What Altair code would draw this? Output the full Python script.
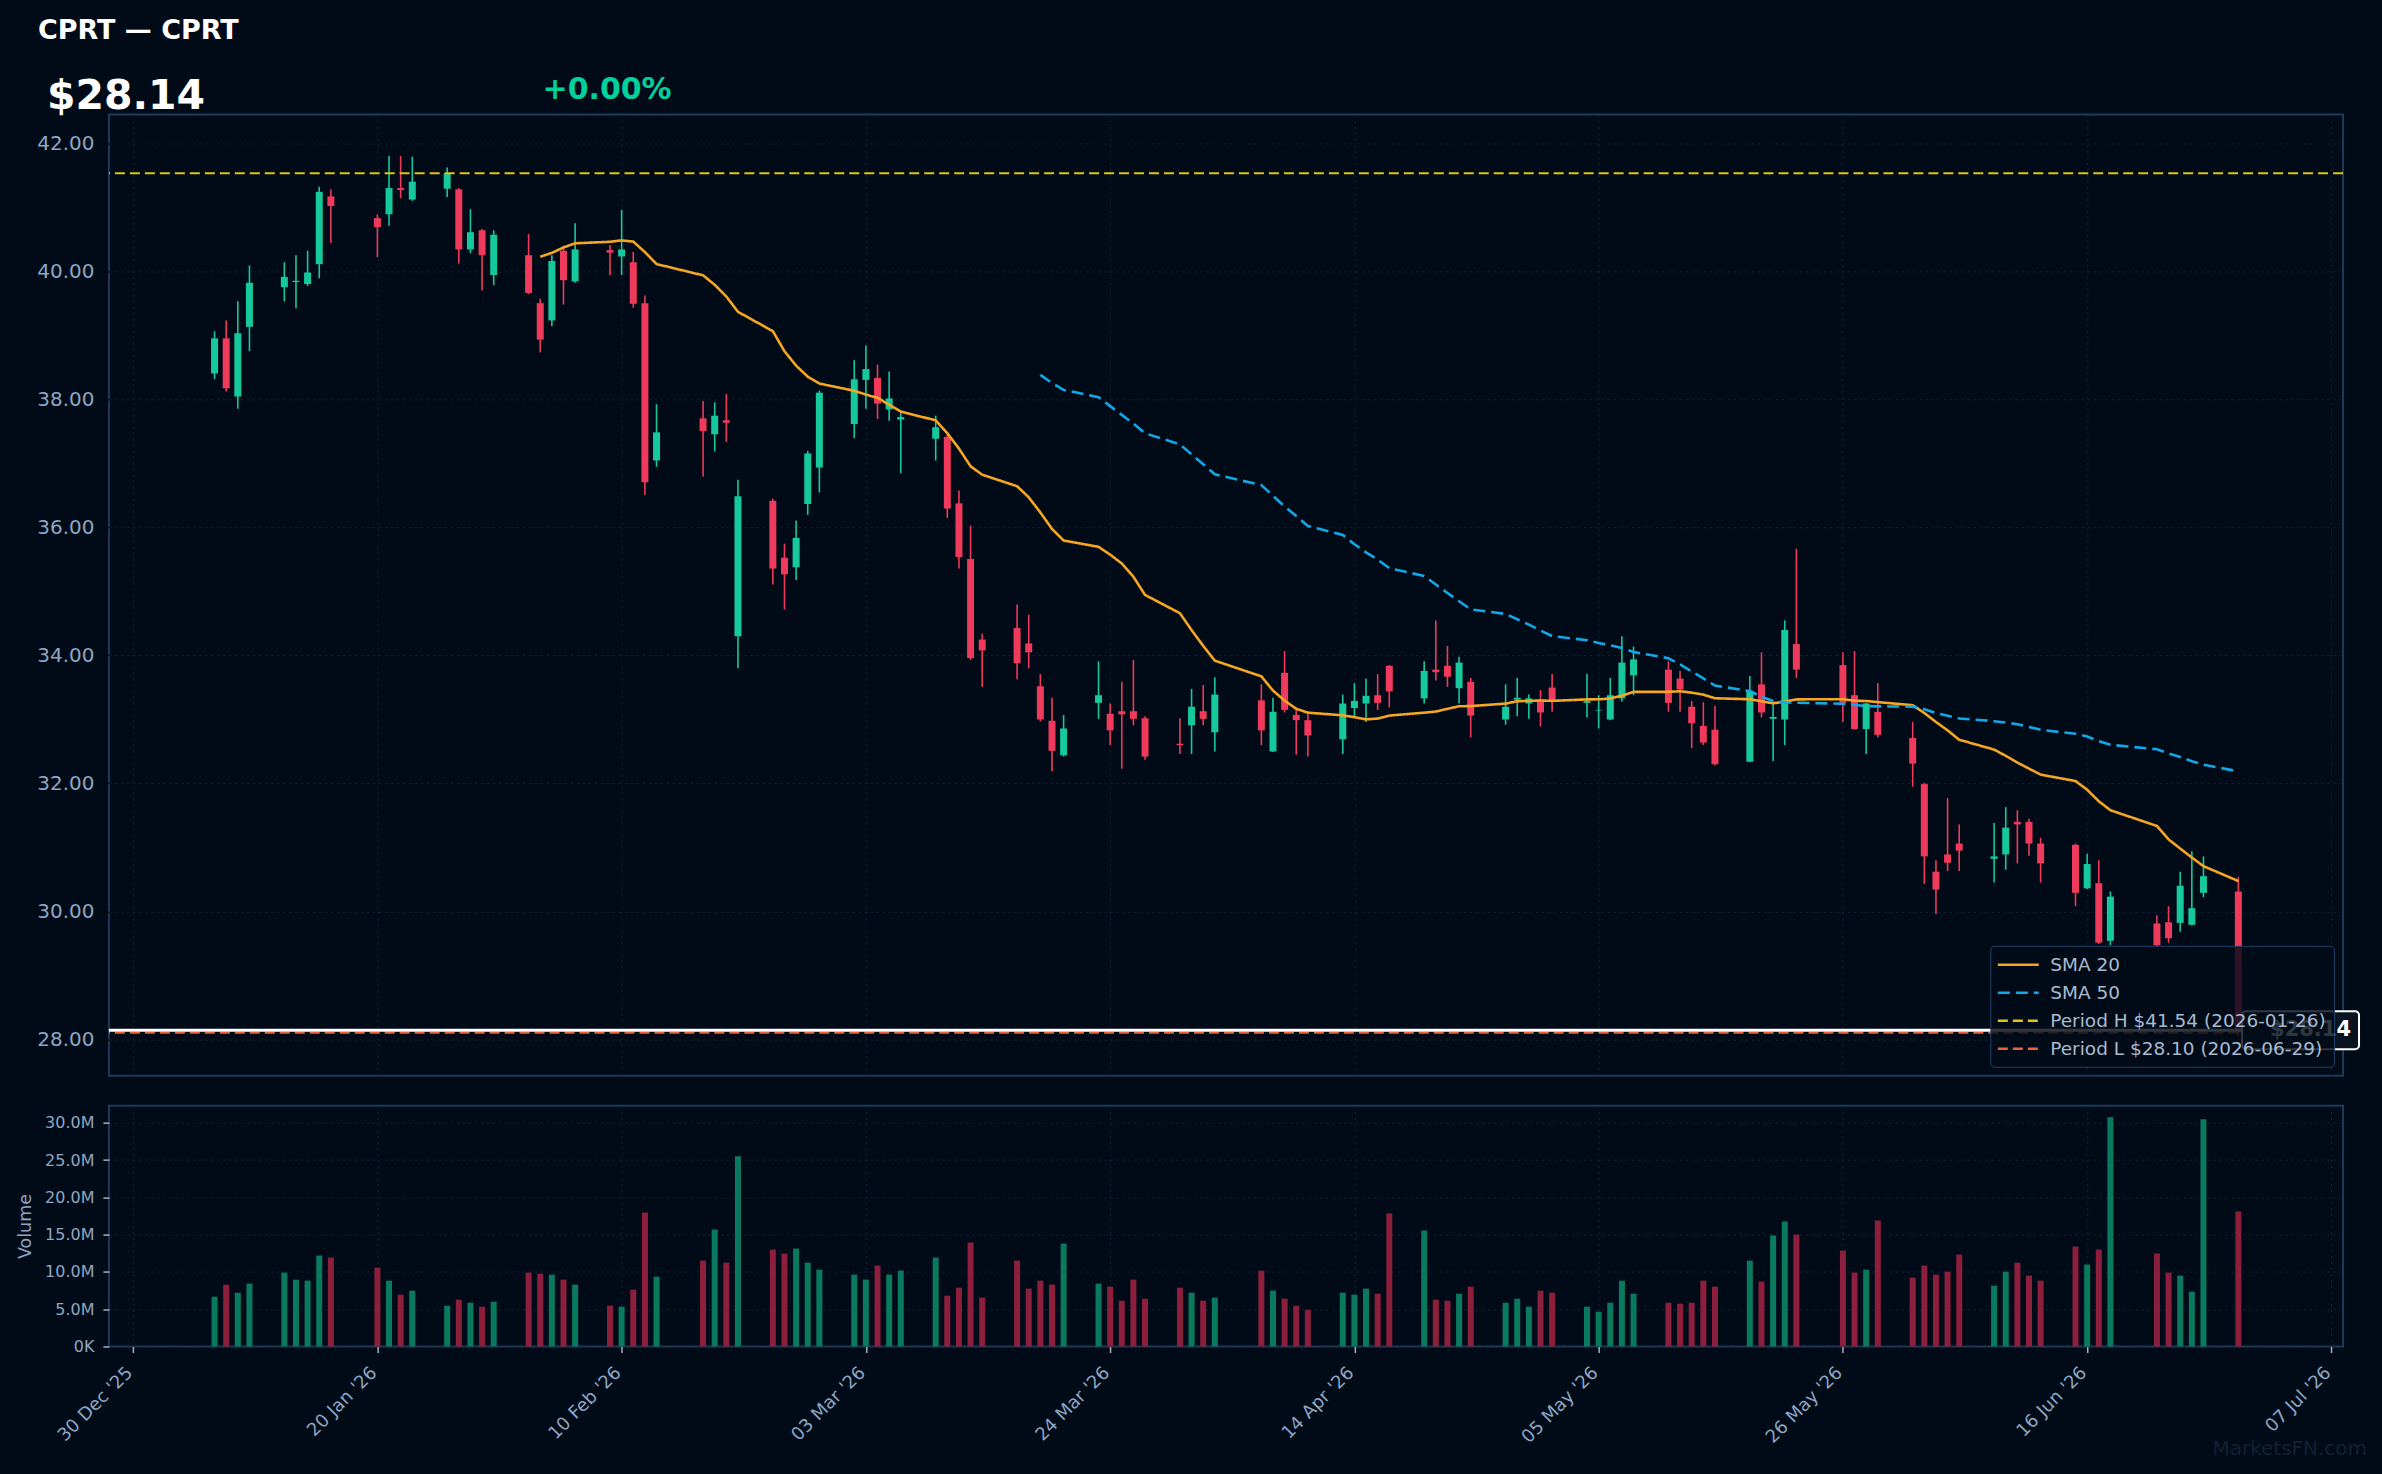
import altair as alt
import pandas as pd

# ---------------- colours ----------------
BG = "#010b17"
FRAME = "#1d3a5c"
GRID = "#14263a"
LABEL = "#8ea6c4"
GREEN = "#16c99c"
RED = "#f03a5b"
VGREEN = "#0a7a5f"
VRED = "#8e1f3c"

# ---------------- data ----------------
dates = [
    "2026-01-06", "2026-01-07", "2026-01-08", "2026-01-09", "2026-01-12", "2026-01-13", "2026-01-14",
    "2026-01-15", "2026-01-16", "2026-01-20", "2026-01-21", "2026-01-22", "2026-01-23", "2026-01-26",
    "2026-01-27", "2026-01-28", "2026-01-29", "2026-01-30",
    "2026-02-02", "2026-02-03", "2026-02-04", "2026-02-05", "2026-02-06", "2026-02-09", "2026-02-10",
    "2026-02-11", "2026-02-12", "2026-02-13", "2026-02-17", "2026-02-18", "2026-02-19", "2026-02-20",
    "2026-02-23", "2026-02-24", "2026-02-25", "2026-02-26", "2026-02-27",
    "2026-03-02", "2026-03-03", "2026-03-04", "2026-03-05", "2026-03-06", "2026-03-09", "2026-03-10",
    "2026-03-11", "2026-03-12", "2026-03-13", "2026-03-16", "2026-03-17", "2026-03-18", "2026-03-19",
    "2026-03-20", "2026-03-23", "2026-03-24", "2026-03-25", "2026-03-26", "2026-03-27", "2026-03-30",
    "2026-03-31",
    "2026-04-01", "2026-04-02", "2026-04-06", "2026-04-07", "2026-04-08", "2026-04-09", "2026-04-10",
    "2026-04-13", "2026-04-14", "2026-04-15", "2026-04-16", "2026-04-17", "2026-04-20", "2026-04-21",
    "2026-04-22", "2026-04-23", "2026-04-24", "2026-04-27", "2026-04-28", "2026-04-29", "2026-04-30",
    "2026-05-01", "2026-05-04", "2026-05-05", "2026-05-06", "2026-05-07", "2026-05-08", "2026-05-11",
    "2026-05-12", "2026-05-13", "2026-05-14", "2026-05-15", "2026-05-18", "2026-05-19", "2026-05-20",
    "2026-05-21", "2026-05-22", "2026-05-26", "2026-05-27", "2026-05-28", "2026-05-29",
    "2026-06-01", "2026-06-02", "2026-06-03", "2026-06-04", "2026-06-05", "2026-06-08", "2026-06-09",
    "2026-06-10", "2026-06-11", "2026-06-12", "2026-06-15", "2026-06-16", "2026-06-17", "2026-06-18",
    "2026-06-22", "2026-06-23", "2026-06-24", "2026-06-25", "2026-06-26", "2026-06-29",
]

opens = [
    38.41, 38.96, 38.05, 39.14, 39.76, 39.84, 39.81, 40.12, 41.18, 40.84, 40.90, 41.31, 41.13, 41.30,
    41.29, 40.35, 40.65, 39.95,
    40.26, 39.51, 39.24, 40.33, 39.85, 40.34, 40.24, 40.15, 39.51, 37.05, 37.71, 37.46, 37.68, 34.30,
    36.42, 35.53, 35.38, 36.37, 36.94,
    37.62, 38.31, 38.34, 37.85, 37.69, 37.39, 37.42, 36.38, 35.51, 34.25, 34.43, 34.19, 33.52, 32.98,
    32.44, 33.26, 33.09, 33.13, 33.13, 33.02, 32.62, 32.91,
    33.13, 32.80, 33.30, 32.50, 33.73, 33.07, 32.99, 32.69, 33.18, 33.25, 33.38, 33.84, 33.33, 33.78,
    33.84, 33.49, 33.59, 33.00, 33.31, 33.25, 33.30,
    33.50, 33.26, 33.14, 33.00, 33.33, 33.69, 33.78, 33.64, 33.20, 32.90, 32.84, 32.34, 33.55, 33.01,
    33.00, 34.18, 33.85, 33.38, 32.85, 33.12,
    32.71, 31.99, 30.62, 30.89, 31.06, 30.82, 30.89, 31.40, 31.40, 31.06, 31.04, 30.36, 30.44, 29.54,
    29.81, 29.83, 29.82, 29.79, 30.29, 30.31,
]

highs = [
    39.07, 39.24, 39.54, 40.10, 40.15, 40.26, 40.33, 41.33, 41.29, 40.90, 41.81, 41.81, 41.80, 41.63,
    41.31, 40.98, 40.67, 40.65,
    40.59, 39.58, 40.26, 40.41, 40.76, 40.42, 40.97, 40.31, 39.63, 37.93, 37.98, 37.96, 38.09, 36.75,
    36.45, 35.75, 36.11, 37.20, 38.14,
    38.62, 38.85, 38.55, 38.44, 37.80, 37.75, 37.46, 36.58, 36.03, 34.34, 34.80, 34.64, 33.71, 33.34,
    33.07, 33.91, 33.25, 33.59, 33.93, 33.05, 33.02, 33.48,
    33.54, 33.66, 33.55, 33.34, 34.07, 33.19, 33.12, 33.39, 33.57, 33.64, 33.71, 33.85, 33.91, 34.55,
    34.15, 33.98, 33.65, 33.55, 33.65, 33.39, 33.46,
    33.71, 33.71, 33.38, 33.65, 34.30, 34.14, 33.91, 33.76, 33.29, 33.27, 33.21, 33.68, 34.05, 33.26,
    34.55, 35.67, 34.05, 34.07, 33.26, 33.57,
    32.96, 32.01, 30.80, 31.77, 31.36, 31.38, 31.63, 31.58, 31.45, 31.15, 31.06, 30.90, 30.80, 30.31,
    29.94, 30.08, 30.62, 30.94, 30.86, 30.54,
]

lows = [
    38.32, 38.13, 37.86, 38.76, 39.54, 39.43, 39.78, 39.90, 40.45, 40.23, 40.72, 41.15, 41.11, 41.17,
    40.13, 40.29, 39.71, 39.79,
    39.65, 38.74, 39.15, 39.49, 39.83, 39.95, 39.95, 39.44, 36.51, 36.95, 36.80, 37.19, 37.34, 33.80,
    35.11, 34.72, 35.18, 36.20, 36.55,
    37.40, 37.86, 37.70, 37.67, 36.85, 37.05, 36.15, 35.36, 33.93, 33.51, 33.63, 33.80, 32.97, 32.19,
    32.42, 33.01, 32.60, 32.23, 32.91, 32.37, 32.46, 32.46,
    32.91, 32.50, 32.60, 32.49, 33.11, 32.45, 32.42, 32.46, 33.05, 32.96, 33.15, 33.19, 33.25, 33.61,
    33.51, 33.25, 32.72, 32.92, 33.05, 33.01, 32.89,
    33.12, 33.03, 32.86, 32.99, 33.28, 33.38, 33.12, 33.12, 32.55, 32.60, 32.28, 32.33, 33.03, 32.35,
    32.60, 33.65, 32.96, 32.84, 32.46, 32.72,
    31.95, 30.43, 29.96, 30.63, 30.63, 30.45, 30.65, 30.75, 30.87, 30.45, 30.08, 30.35, 29.49, 29.47,
    29.43, 29.51, 29.68, 29.78, 30.22, 28.05,
]

closes = [
    38.96, 38.18, 39.04, 39.83, 39.92, 39.86, 39.99, 41.25, 41.03, 40.70, 41.31, 41.28, 41.41, 41.54,
    40.35, 40.62, 40.26, 40.58,
    39.67, 38.94, 40.17, 39.87, 40.35, 40.30, 40.35, 39.50, 36.71, 37.49, 37.51, 37.75, 37.64, 36.49,
    35.36, 35.27, 35.84, 37.16, 38.11,
    38.32, 38.48, 37.94, 38.02, 37.73, 37.57, 36.30, 35.54, 33.96, 34.08, 33.88, 34.05, 33.00, 32.51,
    32.86, 33.38, 32.83, 33.08, 33.01, 32.42, 32.60, 33.20,
    33.01, 33.39, 32.83, 33.12, 33.15, 32.99, 32.75, 33.25, 33.29, 33.37, 33.26, 33.44, 33.76, 33.74,
    33.67, 33.89, 33.06, 33.20, 33.34, 33.33, 33.11,
    33.28, 33.29, 33.15, 33.38, 33.89, 33.94, 33.26, 33.47, 32.94, 32.64, 32.30, 33.45, 33.11, 33.04,
    34.40, 33.78, 33.26, 32.85, 33.25, 32.76,
    32.31, 30.86, 30.34, 30.76, 30.95, 30.86, 31.31, 31.36, 31.06, 30.75, 30.29, 30.74, 29.51, 30.23,
    29.47, 29.58, 30.40, 30.05, 30.55, 28.10,
]

volumes_m = [
    6.68, 8.30, 7.22, 8.43, 9.91, 8.97, 8.83, 12.20, 11.93, 10.58, 8.83, 6.95, 7.49, 5.47, 6.28, 5.87,
    5.34, 6.01,
    9.91, 9.77, 9.64, 8.97, 8.30, 5.47, 5.34, 7.62, 17.98, 9.37, 11.52, 15.69, 11.25, 25.51, 13.00,
    12.47, 13.14, 11.25, 10.31,
    9.64, 8.97, 10.85, 9.64, 10.18, 11.93, 6.82, 7.89, 13.95, 6.55, 11.52, 7.76, 8.83, 8.30, 13.81,
    8.43, 8.03, 6.14, 8.97, 6.41, 7.89, 7.22,
    6.14, 6.55, 10.18, 7.49, 6.41, 5.47, 4.93, 7.22, 6.95, 7.76, 7.08, 17.85, 15.56, 6.28, 6.14, 7.08,
    8.03, 5.87, 6.41, 5.34, 7.49,
    7.22, 5.34, 4.66, 5.87, 8.83, 7.08, 5.87, 5.74, 5.87, 8.83, 8.03, 11.52, 8.70, 14.89, 16.77, 15.02,
    12.87, 9.91, 10.31, 16.90,
    9.24, 10.85, 9.64, 10.04, 12.33, 8.16, 10.04, 11.25, 9.51, 8.83, 13.41, 10.99, 13.00, 30.76, 12.47,
    9.91, 9.51, 7.35, 30.49, 18.12,
]

ticker_title = ["CPRT \u2014 CPRT"]
last_price = [28.14]
last_price_text = ["$28.14"]
change_text = ["+0.00%"]
watermark_text = ["MarketsFN.com"]
tick_dates = [(2025, 12, 30), (2026, 1, 20), (2026, 2, 10), (2026, 3, 3), (2026, 3, 24),
              (2026, 4, 14), (2026, 5, 5), (2026, 5, 26), (2026, 6, 16), (2026, 7, 7)]
price_ticks = [28, 30, 32, 34, 36, 38, 40, 42]
volume_ticks = [0, 5e6, 10e6, 15e6, 20e6, 25e6, 30e6]

# ---------------- tables ----------------
df = pd.DataFrame({"date": dates, "open": opens, "high": highs, "low": lows,
                   "close": closes, "vol_m": volumes_m})
df["volume"] = df["vol_m"] * 1e6
df["sma20"] = df["close"].rolling(20).mean()
df["sma50"] = df["close"].rolling(50).mean()

hi_i = int(df["close"].idxmax())
lo_i = int(df["close"].idxmin())
label_sma20 = "SMA 20"
label_sma50 = "SMA 50"
label_h = f"Period H ${df['close'][hi_i]:.2f} ({df['date'][hi_i]})"
label_l = f"Period L ${df['close'][lo_i]:.2f} ({df['date'][lo_i]})"
series_domain = [label_sma20, label_sma50, label_h, label_l]

sma_rows = []
for d, a, b in zip(df["date"], df["sma20"], df["sma50"]):
    if pd.notna(a):
        sma_rows.append({"date": d, "value": float(a), "series": label_sma20})
    if pd.notna(b):
        sma_rows.append({"date": d, "value": float(b), "series": label_sma50})
sma_df = pd.DataFrame(sma_rows)
levels_df = pd.DataFrame({"value": [df["close"][hi_i], df["close"][lo_i]],
                          "series": [label_h, label_l]})
last_df = pd.DataFrame({"value": last_price, "label": last_price_text})

# ---------------- scales / axes ----------------
W, H_PRICE, H_VOL = 2236, 962, 241

x_scale = alt.Scale(type="utc", padding=0, domain=[
    alt.DateTime(year=2025, month=12, date=27, hours=22, utc=True),
    alt.DateTime(year=2026, month=7, date=8, utc=True)])
tick_vals = [alt.DateTime(year=y, month=m, date=d, utc=True) for (y, m, d) in tick_dates]

x_axis_price = alt.Axis(values=tick_vals, labels=False, ticks=False, domain=False, grid=True,
                        gridColor=GRID, gridDash=[2, 4], gridWidth=1, title=None)
x_axis_vol = alt.Axis(values=tick_vals, format="%d %b '%y", labelAngle=315, labelAlign="right",
                      labelBaseline="top", labelFontSize=18, labelColor=LABEL, labelPadding=11,
                      labelOffset=-10, labelFlush=False, labelOverlap=False, labelBound=False,
                      tickColor="#9fb3c8", tickSize=6, tickWidth=1.5, domain=False, grid=True,
                      gridColor=GRID, gridDash=[2, 4], gridWidth=1, title=None)

y_scale = alt.Scale(domain=[27.43, 42.46], nice=False, zero=False, padding=0)
y_axis_price = alt.Axis(values=price_ticks, format=".2f", labelFontSize=20, labelColor=LABEL,
                        tickColor="#000000", tickSize=6, tickWidth=1.5, labelPadding=9,
                        domain=False, grid=True, gridColor=GRID, gridDash=[2, 4], gridWidth=1,
                        title=None)

X_ENC = alt.X("date:T", scale=x_scale, axis=x_axis_price)


def y_enc(field):
    return alt.Y(field, type="quantitative", scale=y_scale, axis=y_axis_price)


legend = alt.Legend(title=None, orient="bottom-right", direction="vertical", offset=9,
                    fillColor="rgba(1,11,23,0.82)", strokeColor="#23426a", cornerRadius=4,
                    padding=8, labelColor="#a9bad0", labelFontSize=18.5, labelLimit=0,
                    symbolType="M-2.2,0L2.2,0", symbolSize=346, symbolStrokeWidth=2.5,
                    symbolOffset=9, labelOffset=21, rowPadding=7)
color_scale = alt.Scale(domain=series_domain, range=["#f5a623", "#12a8e8", "#e0c417", "#e8643c"])
dash_scale = alt.Scale(domain=series_domain, range=[[1, 0], [12, 6], [10, 5], [10, 5]])

cond_c = alt.condition("datum.close >= datum.open", alt.value(GREEN), alt.value(RED))
cond_v = alt.condition("datum.close >= datum.open", alt.value(VGREEN), alt.value(VRED))

# ---------------- price panel ----------------
canvas = alt.Chart(pd.DataFrame({"k": [0]})).mark_rect(opacity=0).encode(
    x=alt.value(-108), x2=alt.value(2274), y=alt.value(-113), y2=alt.value(1361))

wicks = alt.Chart(df).mark_rule(strokeWidth=1.6).encode(
    x=X_ENC, y=y_enc("low"), y2="high:Q", color=cond_c)
bodies = alt.Chart(df).mark_bar(size=7).encode(
    x=X_ENC, y=y_enc("open"), y2="close:Q", color=cond_c)

sma_lines = alt.Chart(sma_df).mark_line(strokeWidth=2.6).encode(
    x=X_ENC, y=y_enc("value"),
    color=alt.Color("series:N", scale=color_scale, legend=legend),
    strokeDash=alt.StrokeDash("series:N", scale=dash_scale, legend=legend))

level_rules = alt.Chart(levels_df).mark_rule(strokeWidth=2).encode(
    y=y_enc("value"),
    color=alt.Color("series:N", scale=color_scale, legend=legend),
    strokeDash=alt.StrokeDash("series:N", scale=dash_scale, legend=legend))

last_rule = alt.Chart(last_df).mark_rule(color="#ffffff", strokeWidth=3).encode(y=y_enc("value"))

tag_box = alt.Chart(last_df).mark_rect(fill="#0a1320", stroke="#ffffff", strokeWidth=2,
                                       cornerRadius=4, yOffset=-19, y2Offset=19).encode(
    y=y_enc("value"), y2=alt.Y2("value"), x=alt.value(2135), x2=alt.value(2252))
tag_text = alt.Chart(last_df).mark_text(align="right", baseline="middle", fontSize=21,
                                        fontWeight="bold", color="#ffffff").encode(
    y=y_enc("value"), x=alt.value(2244), text="label:N")

title_txt = alt.Chart(pd.DataFrame({"t": ticker_title})).mark_text(
    align="left", baseline="alphabetic", fontSize=27, fontWeight="bold", color="#ffffff").encode(
    x=alt.value(-71), y=alt.value(-76), text="t:N")
price_txt = alt.Chart(pd.DataFrame({"t": last_price_text})).mark_text(
    align="left", baseline="alphabetic", fontSize=41, fontWeight="bold", color="#ffffff").encode(
    x=alt.value(-62), y=alt.value(-6), text="t:N")
chg_txt = alt.Chart(pd.DataFrame({"t": change_text})).mark_text(
    align="left", baseline="alphabetic", fontSize=30, fontWeight="bold", color="#00d09c").encode(
    x=alt.value(434), y=alt.value(-16), text="t:N")
wm_txt = alt.Chart(pd.DataFrame({"t": watermark_text})).mark_text(
    align="right", baseline="alphabetic", fontSize=20, color="#132035").encode(
    x=alt.value(2260), y=alt.value(1342), text="t:N")

price = alt.layer(canvas, wicks, bodies, sma_lines, level_rules, last_rule, tag_box, tag_text,
                  title_txt, price_txt, chg_txt, wm_txt).properties(width=W, height=H_PRICE)

# ---------------- volume panel ----------------
y_axis_vol = alt.Axis(values=volume_ticks,
                      labelExpr="datum.value == 0 ? '0K' : format(datum.value / 1e6, '.1f') + 'M'",
                      labelFontSize=16, labelColor=LABEL, tickColor="#9fb3c8", tickSize=6,
                      tickWidth=1.5, labelPadding=9, domain=False, grid=True, gridColor=GRID,
                      gridDash=[2, 4], gridWidth=1, title="Volume", titleFontSize=17.5,
                      titleFontWeight="normal", titleColor=LABEL, titlePadding=10)

volume = alt.Chart(df).mark_bar(size=6).encode(
    x=alt.X("date:T", scale=x_scale, axis=x_axis_vol),
    y=alt.Y("volume:Q", scale=alt.Scale(domain=[0, 32.3e6], nice=False, padding=0), axis=y_axis_vol),
    color=cond_v).properties(width=W, height=H_VOL)

chart = alt.vconcat(price, volume, spacing=30, bounds="flush", padding=0).resolve_scale(
    color="independent", strokeDash="independent").resolve_legend(
    color="independent", strokeDash="independent").configure(
    background=BG, font="DejaVu Sans").configure_view(stroke=FRAME, strokeWidth=2)

chart.save("out.html", embed_options={"renderer": "svg", "actions": False})
